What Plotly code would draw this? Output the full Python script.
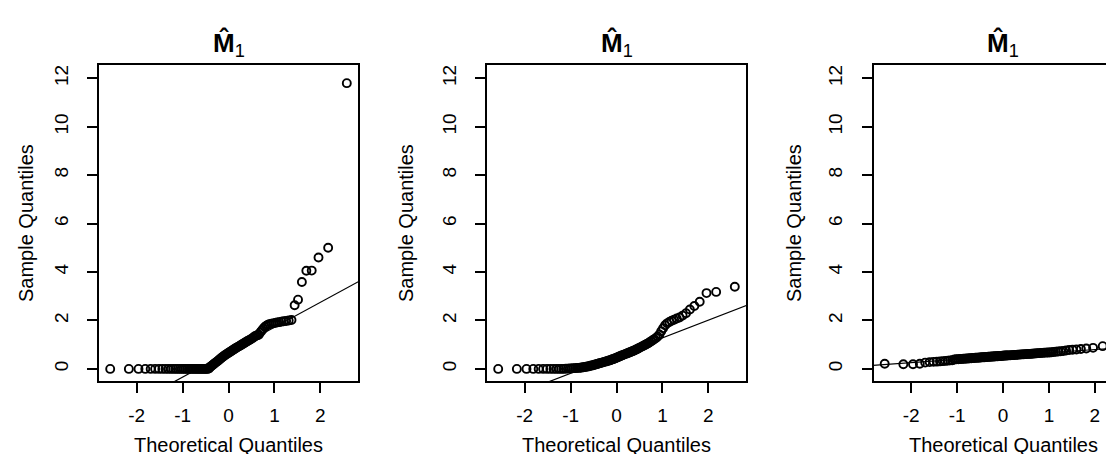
import plotly.graph_objects as go

# Theoretical normal quantiles (n = 100)
theoretical_q = [
    -2.576, -2.170, -1.960, -1.812, -1.695, -1.598, -1.514, -1.440, -1.372, -1.311,
    -1.254, -1.200, -1.150, -1.103, -1.058, -1.015, -0.974, -0.935, -0.896, -0.860,
    -0.824, -0.789, -0.755, -0.722, -0.690, -0.659, -0.628, -0.598, -0.568, -0.539,
    -0.510, -0.482, -0.454, -0.426, -0.399, -0.372, -0.345, -0.319, -0.292, -0.266,
    -0.240, -0.215, -0.189, -0.164, -0.138, -0.113, -0.088, -0.063, -0.038, -0.013,
    0.013, 0.038, 0.063, 0.088, 0.113, 0.138, 0.164, 0.189, 0.215, 0.240,
    0.266, 0.292, 0.319, 0.345, 0.372, 0.399, 0.426, 0.454, 0.482, 0.510,
    0.539, 0.568, 0.598, 0.628, 0.659, 0.690, 0.722, 0.755, 0.789, 0.824,
    0.860, 0.896, 0.935, 0.974, 1.015, 1.058, 1.103, 1.150, 1.200, 1.254,
    1.311, 1.372, 1.440, 1.514, 1.598, 1.695, 1.812, 1.960, 2.170, 2.576,
]

# Sample quantiles, panel 1
sample_q1 = [
    0, 0, 0, 0, 0, 0, 0, 0, 0, 0,
    0, 0, 0, 0, 0, 0, 0, 0, 0, 0,
    0, 0, 0, 0, 0, 0, 0, 0, 0, 0,
    0, 0, 0, 0.02, 0.08, 0.12, 0.16, 0.20, 0.24, 0.28,
    0.32, 0.36, 0.40, 0.44, 0.48, 0.51, 0.55, 0.58, 0.62, 0.65,
    0.68, 0.71, 0.74, 0.77, 0.80, 0.83, 0.86, 0.89, 0.92, 0.95,
    0.98, 1.01, 1.04, 1.07, 1.10, 1.13, 1.16, 1.19, 1.22, 1.25,
    1.30, 1.34, 1.37, 1.39, 1.41, 1.50, 1.58, 1.66, 1.73, 1.78,
    1.82, 1.85, 1.87, 1.88, 1.90, 1.92, 1.93, 1.95, 1.97, 1.98,
    2.00, 2.02, 2.63, 2.86, 3.59, 4.05, 4.06, 4.60, 5.00, 11.80,
]

# Sample quantiles, panel 2
sample_q2 = [
    0, 0, 0, 0, 0, 0, 0, 0, 0, 0,
    0, 0, 0, 0.01, 0.01, 0.02, 0.02, 0.03, 0.03, 0.04,
    0.04, 0.05, 0.06, 0.07, 0.08, 0.09, 0.10, 0.11, 0.13, 0.14,
    0.15, 0.17, 0.18, 0.20, 0.21, 0.23, 0.24, 0.26, 0.27, 0.29,
    0.30, 0.32, 0.33, 0.35, 0.36, 0.38, 0.40, 0.41, 0.43, 0.45,
    0.47, 0.49, 0.51, 0.53, 0.55, 0.57, 0.59, 0.61, 0.63, 0.65,
    0.67, 0.69, 0.71, 0.73, 0.75, 0.77, 0.80, 0.82, 0.85, 0.88,
    0.91, 0.94, 0.97, 1.00, 1.03, 1.06, 1.10, 1.14, 1.18, 1.23,
    1.28, 1.34, 1.42, 1.55, 1.68, 1.80, 1.88, 1.94, 1.99, 2.03,
    2.08, 2.12, 2.20, 2.30, 2.45, 2.60, 2.77, 3.13, 3.18, 3.39,
]

# Sample quantiles, panel 3
sample_q3 = [
    0.21, 0.19, 0.19, 0.21, 0.26, 0.28, 0.29, 0.30, 0.31, 0.32,
    0.33, 0.34, 0.35, 0.36, 0.39, 0.40, 0.40, 0.41, 0.41, 0.42,
    0.42, 0.43, 0.43, 0.44, 0.44, 0.45, 0.45, 0.46, 0.46, 0.46,
    0.47, 0.47, 0.48, 0.48, 0.48, 0.49, 0.49, 0.50, 0.50, 0.50,
    0.51, 0.51, 0.51, 0.52, 0.52, 0.52, 0.53, 0.53, 0.53, 0.54,
    0.54, 0.55, 0.55, 0.55, 0.56, 0.56, 0.56, 0.57, 0.57, 0.57,
    0.58, 0.58, 0.59, 0.59, 0.59, 0.60, 0.60, 0.60, 0.61, 0.61,
    0.62, 0.62, 0.62, 0.63, 0.63, 0.64, 0.64, 0.65, 0.65, 0.66,
    0.66, 0.67, 0.67, 0.68, 0.68, 0.69, 0.70, 0.71, 0.72, 0.73,
    0.74, 0.76, 0.78, 0.79, 0.80, 0.82, 0.84, 0.87, 0.94, 3.05,
]

# qqline parameters per panel (intercept, slope)
qqline_intercepts = [0.69, 0.55, 0.53]
qqline_slopes = [1.03, 0.733, 0.135]

x_tick_vals = [-2, -1, 0, 1, 2]
x_tick_text = ["-2", "-1", "0", "1", "2"]
y_tick_vals = [0, 2, 4, 6, 8, 10, 12]
y_tick_text = ["0", "2", "4", "6", "8", "10", "12"]

panel_title = "M\u0302"
panel_sub = "1"
x_title = "Theoretical Quantiles"
y_title = "Sample Quantiles"

W, H = 1114, 454
FONT = "Liberation Sans, Arial, sans-serif"
TICK_SIZE = 19
TITLE_SIZE = 20

# pixel geometry
panels_px = [(91, 350), (479, 738), (865.5, 1114)]
x_ranges = [[-2.82, 2.82], [-2.82, 2.82], [-2.82, 2.59]]
top_px, bot_px = 57, 373
y_range = [-0.5, 12.55]
ytitle_px = [18, 398, 786]

samples = [sample_q1, sample_q2, sample_q3]

fig = go.Figure()
line_x = [-3.5, 3.5]
for k in range(3):
    xa = "x" if k == 0 else f"x{k+1}"
    ya = "y" if k == 0 else f"y{k+1}"
    fig.add_trace(go.Scatter(
        x=theoretical_q, y=samples[k], mode="markers",
        marker=dict(symbol="circle-open", size=8, color="black",
                    line=dict(width=1.9, color="black")),
        xaxis=xa, yaxis=ya, showlegend=False, hoverinfo="x+y"))
    b0, b1 = qqline_intercepts[k], qqline_slopes[k]
    fig.add_trace(go.Scatter(
        x=line_x, y=[b0 + b1 * v for v in line_x], mode="lines",
        line=dict(color="black", width=1.2),
        xaxis=xa, yaxis=ya, showlegend=False, hoverinfo="skip"))

ydom = [(H - bot_px) / H, (H - top_px) / H]
layout = dict(
    width=W, height=H, margin=dict(l=0, r=0, t=0, b=0),
    paper_bgcolor="white", plot_bgcolor="white",
    font=dict(family=FONT, color="black"),
    showlegend=False,
)
annotations = []
for k in range(3):
    xs = "xaxis" if k == 0 else f"xaxis{k+1}"
    ys = "yaxis" if k == 0 else f"yaxis{k+1}"
    yname = "y" if k == 0 else f"y{k+1}"
    xname = "x" if k == 0 else f"x{k+1}"
    l, r = panels_px[k]
    layout[xs] = dict(
        domain=[l / W, r / W], range=x_ranges[k], anchor=yname,
        showgrid=False, zeroline=False, showline=True, mirror=True,
        linecolor="black", linewidth=1.5,
        ticks="outside", ticklen=10, tickwidth=1.5, tickcolor="black",
        tickvals=x_tick_vals, ticktext=x_tick_text, tickangle=0,
        tickfont=dict(size=TICK_SIZE, family=FONT, color="black"),
        ticklabelstandoff=6,
    )
    layout[ys] = dict(
        domain=ydom, range=y_range, anchor=xname,
        showgrid=False, zeroline=False, showline=True,
        mirror=(k < 2),
        linecolor="black", linewidth=1.5,
        ticks="outside", ticklen=10, tickwidth=1.5, tickcolor="black",
        tickvals=y_tick_vals, ticktext=y_tick_text, tickangle=-90,
        tickfont=dict(size=TICK_SIZE, family=FONT, color="black"),
        ticklabelstandoff=12,
    )
    cx = ((l + panels_px[k][1]) / 2) if k < 2 else (l + 259 / 2)
    # x axis title
    annotations.append(dict(
        text=x_title, xref="paper", yref="paper",
        x=cx / W, y=(H - 437) / H, xanchor="center", yanchor="middle",
        showarrow=False, font=dict(size=TITLE_SIZE, family=FONT, color="black")))
    # y axis title
    annotations.append(dict(
        text=y_title, xref="paper", yref="paper", textangle=-90,
        x=ytitle_px[k] / W, y=(H - 215) / H, xanchor="center", yanchor="middle",
        showarrow=False, font=dict(size=TITLE_SIZE, family=FONT, color="black")))
    # main title
    annotations.append(dict(
        text=f"<b>{panel_title}</b><sub>{panel_sub}</sub>", xref="paper", yref="paper",
        x=cx / W, y=(H - 36) / H, xanchor="center", yanchor="middle",
        showarrow=False, font=dict(size=26, family=FONT, color="black")))

layout["annotations"] = annotations
fig.update_layout(**layout)
fig.write_html("out.html")
